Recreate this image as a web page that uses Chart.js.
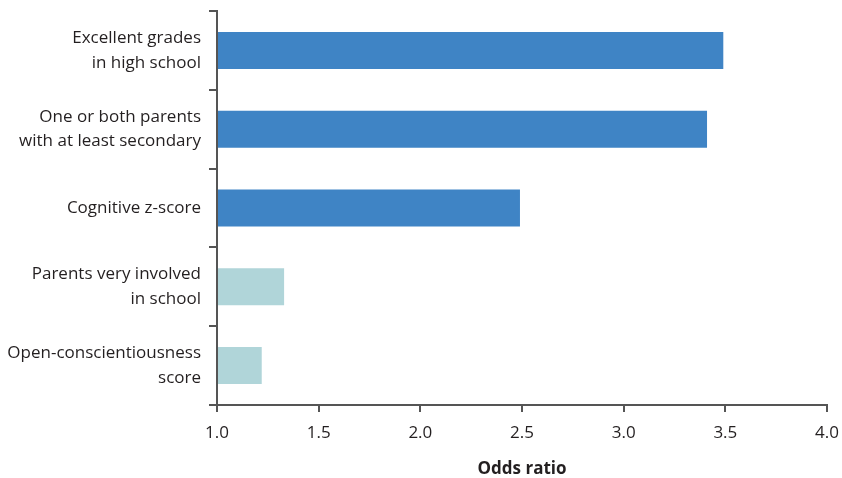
<!DOCTYPE html>
<html>
<head>
<meta charset="utf-8">
<script src="https://cdn.jsdelivr.net/npm/chart.js@4"></script>
<style>
  html, body { margin: 0; padding: 0; background: #fff; }
  #wrap { width: 842px; height: 478px; position: relative; }
</style>
</head>
<body>
<div id="wrap"><canvas id="chart"></canvas></div>
<script>
// Odds ratios per factor, top to bottom as drawn.
const CATEGORIES = [
  ["Excellent grades", "in high school"],
  ["One or both parents", "with at least secondary"],
  ["Cognitive z-score"],
  ["Parents very involved", "in school"],
  ["Open-conscientiousness", "score"],
];
const ODDS_RATIOS = [3.49, 3.41, 2.49, 1.33, 1.22];
// strong effects in blue, weaker ones in pale teal
const IS_STRONG = [true, true, true, false, false];
const X_TICKS = [1.0, 1.5, 2.0, 2.5, 3.0, 3.5, 4.0];

const BLUE = "#3f84c5";
const TEAL = "#b0d5d9";
const AXIS = "#555555";
const TEXT = "#231f20";
const FONT = "'Open Sans', sans-serif";

new Chart(document.getElementById("chart").getContext("2d"), {
  type: "bar",
  data: {
    labels: CATEGORIES,
    datasets: [{
      data: ODDS_RATIOS,
      base: 1,
      backgroundColor: IS_STRONG.map((s) => (s ? BLUE : TEAL)),
      borderWidth: 0,
      categoryPercentage: 1,
      barPercentage: 0.47,
    }],
  },
  options: {
    indexAxis: "y",
    responsive: true,
    maintainAspectRatio: false,
    animation: false,
    layout: { padding: { top: 11, right: 0, left: 0, bottom: 0 } },
    plugins: { legend: { display: false }, tooltip: { enabled: false } },
    scales: {
      x: {
        min: X_TICKS[0],
        max: X_TICKS[X_TICKS.length - 1],
        afterBuildTicks: (axis) => { axis.ticks = X_TICKS.map((v) => ({ value: v })); },
        // pin the plot frame: axis line at y=405, right edge at x=827
        afterFit: (axis) => {
          axis.height = 73;
          axis.paddingLeft = 0;
          axis.paddingRight = 15;
        },
        border: { color: AXIS, width: 2 },
        grid: { drawOnChartArea: false, drawTicks: true, tickLength: 7, color: AXIS, lineWidth: 2 },
        ticks: {
          color: TEXT,
          font: { family: FONT, size: 17 },
          padding: 11,
          maxRotation: 0,
          callback: (v) => Number(v).toFixed(1),
        },
        title: {
          display: true,
          text: "Odds ratio",
          color: TEXT,
          font: { family: FONT, size: 17, weight: "bold", lineHeight: 1 },
          padding: { top: 8, bottom: 0 },
        },
      },
      y: {
        afterFit: (axis) => {
          axis.width = 217;
          axis.paddingTop = 0;
          axis.paddingBottom = 0;
        },
        border: { color: AXIS, width: 2 },
        grid: { drawOnChartArea: false, drawTicks: true, tickLength: 8, color: AXIS, lineWidth: 2, offset: true },
        ticks: {
          color: TEXT,
          font: { family: FONT, size: 17, lineHeight: 1.45 },
          padding: 8,
        },
      },
    },
  },
});
</script>
</body>
</html>
